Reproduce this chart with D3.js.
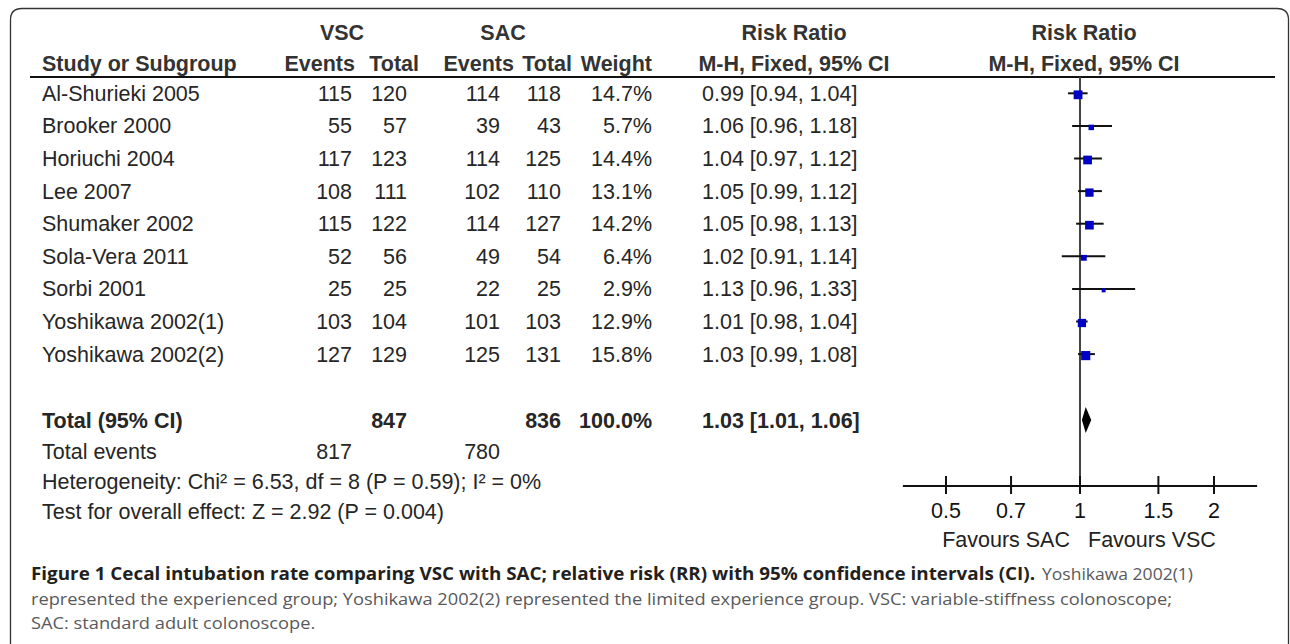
<!DOCTYPE html>
<html><head><meta charset="utf-8">
<script src="https://cdn.jsdelivr.net/npm/d3@7"></script>
<style>html,body{margin:0;padding:0;background:#fff;} svg{display:block;}</style>
</head><body><svg id="c" width="1290" height="644"></svg>
<script>
// ---------------- data ----------------
const studies = ["Al-Shurieki 2005","Brooker 2000","Horiuchi 2004","Lee 2007","Shumaker 2002","Sola-Vera 2011","Sorbi 2001","Yoshikawa 2002(1)","Yoshikawa 2002(2)"];
const vscEvents = [115,55,117,108,115,52,25,103,127];
const vscTotal  = [120,57,123,111,122,56,25,104,129];
const sacEvents = [114,39,114,102,114,49,22,101,125];
const sacTotal  = [118,43,125,110,127,54,25,103,131];
const weights   = [14.7,5.7,14.4,13.1,14.2,6.4,2.9,12.9,15.8];
const rr        = [0.99,1.06,1.04,1.05,1.05,1.02,1.13,1.01,1.03];
const ciLow     = [0.94,0.96,0.97,0.99,0.98,0.91,0.96,0.98,0.99];
const ciHigh    = [1.04,1.18,1.12,1.12,1.13,1.14,1.33,1.04,1.08];
const totalVsc = 847, totalSac = 836, totalWeight = 100.0;
const pooled = [1.03, 1.01, 1.06];
const eventsVsc = 817, eventsSac = 780;
const tickValues = [0.5, 0.7, 1, 1.5, 2];
const axisRange = [0.4, 2.5];
const heterogeneity = "Heterogeneity: Chi\u00b2 = 6.53, df = 8 (P = 0.59); I\u00b2 = 0%";
const overallTest = "Test for overall effect: Z = 2.92 (P = 0.004)";
const captionBold = "Figure 1 Cecal intubation rate comparing VSC with SAC; relative risk (RR) with 95% confidence intervals (CI).";
const captionLines = [
  "Yoshikawa 2002(1)",
  "represented the experienced group; Yoshikawa 2002(2) represented the limited experience group. VSC: variable-stiffness colonoscope;",
  "SAC: standard adult colonoscope."
];

// ---------------- layout ----------------
const FONT = "'Liberation Sans', Arial, sans-serif";
const FS = 21.5;
const svg = d3.select("#c");
const txt = "#262626", hdr = "#333";
const f2 = d3.format(".2f");
const fmtCI = (m,l,h) => `${f2(m)} [${f2(l)}, ${f2(h)}]`;

// frame
svg.append("path")
  .attr("d","M10.5,660 L10.5,20 Q10.5,8.5 22,8.5 L1277,8.5 Q1288.5,8.5 1288.5,20 L1288.5,660")
  .attr("fill","none").attr("stroke","#333").attr("stroke-width",1.3);

const row = d3.scaleLinear().domain([0,1]).range([93.3, 125.9]);
const x = d3.scaleLog().domain([0.5, 2]).range([946, 1214]);
const sq = d3.scaleSqrt().domain([0, 16]).range([0, 9.2]);

const col = {name:42, ve:352, vt:407, se:500, st:561, w:652, ci:702, ciC:794,
             hve:355, hvt:419, hse:514, hst:572, vscC:342, sacC:503, fc:1084};
const yH1 = 40, yH2 = 71, yLine = 77;
const yTot = 420, yTE = 451, yHet = 481, yTest = 511;
const axisY = 486;

function t(x0,y0,s,anchor,bold,size,fill){
  return svg.append("text").attr("x",x0).attr("y",y0).text(s)
    .attr("text-anchor",anchor||"start")
    .attr("font-family",FONT).attr("font-size",size||FS)
    .attr("font-weight",bold?"bold":"normal").attr("fill",fill||txt);
}

// headers
t(col.vscC, yH1, "VSC", "middle", true, FS, hdr);
t(col.sacC, yH1, "SAC", "middle", true, FS, hdr);
t(col.ciC, yH1, "Risk Ratio", "middle", true, FS, hdr);
t(col.fc, yH1, "Risk Ratio", "middle", true, FS, hdr);
t(col.name, yH2, "Study or Subgroup", "start", true, FS, hdr);
t(col.hve, yH2, "Events", "end", true, FS, hdr);
t(col.hvt, yH2, "Total", "end", true, FS, hdr);
t(col.hse, yH2, "Events", "end", true, FS, hdr);
t(col.hst, yH2, "Total", "end", true, FS, hdr);
t(col.w, yH2, "Weight", "end", true, FS, hdr);
t(col.ciC, yH2, "M-H, Fixed, 95% CI", "middle", true, FS, hdr);
t(col.fc, yH2, "M-H, Fixed, 95% CI", "middle", true, FS, hdr);
svg.append("line").attr("x1",30).attr("x2",1275).attr("y1",yLine).attr("y2",yLine)
  .attr("stroke","#111").attr("stroke-width",2);

// study rows
const g = svg.append("g");
const rows = g.selectAll("g.r").data(studies).join("g").attr("class","r")
  .attr("transform",(d,i)=>`translate(0,${row(i)})`);
const cell = (sel,xx,fn,anchor)=>sel.append("text").attr("x",xx).attr("y",7.5)
  .attr("text-anchor",anchor).attr("font-family",FONT).attr("font-size",FS)
  .attr("fill",txt).text(fn);
cell(rows, col.name, d=>d, "start");
cell(rows, col.ve, (d,i)=>vscEvents[i], "end");
cell(rows, col.vt, (d,i)=>vscTotal[i], "end");
cell(rows, col.se, (d,i)=>sacEvents[i], "end");
cell(rows, col.st, (d,i)=>sacTotal[i], "end");
cell(rows, col.w, (d,i)=>weights[i].toFixed(1)+"%", "end");
cell(rows, col.ci, (d,i)=>fmtCI(rr[i],ciLow[i],ciHigh[i]), "start");

// totals
t(col.name, yTot+7.5, "Total (95% CI)", "start", true);
t(col.vt, yTot+7.5, totalVsc, "end", true);
t(col.st, yTot+7.5, totalSac, "end", true);
t(col.w, yTot+7.5, totalWeight.toFixed(1)+"%", "end", true);
t(col.ci, yTot+7.5, fmtCI(pooled[0],pooled[1],pooled[2]), "start", true);
t(col.name, yTE+7.5, "Total events");
t(col.ve, yTE+7.5, eventsVsc, "end");
t(col.se, yTE+7.5, eventsSac, "end");
t(col.name, yHet+7.5, heterogeneity);
t(col.name, yTest+7.5, overallTest);

// forest: null line
svg.append("line").attr("x1",x(1)).attr("x2",x(1)).attr("y1",yLine).attr("y2",axisY+8)
  .attr("stroke","#444").attr("stroke-width",2);
// CI whiskers and squares
const fg = svg.append("g");
fg.selectAll("line.ci").data(studies).join("line").attr("class","ci")
  .attr("x1",(d,i)=>x(ciLow[i])).attr("x2",(d,i)=>x(ciHigh[i]))
  .attr("y1",(d,i)=>row(i)).attr("y2",(d,i)=>row(i))
  .attr("stroke","#111").attr("stroke-width",2);
fg.selectAll("rect.sq").data(studies).join("rect").attr("class","sq")
  .attr("x",(d,i)=>x(rr[i])-sq(weights[i])/2)
  .attr("y",(d,i)=>row(i)+1.5-sq(weights[i])/2)
  .attr("width",(d,i)=>sq(weights[i])).attr("height",(d,i)=>sq(weights[i]))
  .attr("fill","#0000c4");
// diamond
const dh = 13;
svg.append("path")
  .attr("d",`M${x(pooled[1])},${yTot} L${x(pooled[0])},${yTot-dh} L${x(pooled[2])},${yTot} L${x(pooled[0])},${yTot+dh} Z`)
  .attr("fill","#000");

// axis
svg.append("line").attr("x1",x(axisRange[0])).attr("x2",x(axisRange[1]))
  .attr("y1",axisY).attr("y2",axisY).attr("stroke","#111").attr("stroke-width",2);
const ax = svg.append("g");
ax.selectAll("line.tk").data(tickValues).join("line").attr("class","tk")
  .attr("x1",d=>x(d)).attr("x2",d=>x(d)).attr("y1",axisY-10).attr("y2",axisY+8)
  .attr("stroke","#111").attr("stroke-width",2);
ax.selectAll("text.tl").data(tickValues).join("text").attr("class","tl")
  .attr("x",d=>x(d)).attr("y",axisY+32).attr("text-anchor","middle")
  .attr("font-family",FONT).attr("font-size",FS).attr("fill","#111").text(d=>d);
t(x(1)-10, axisY+61, "Favours SAC", "end", false, FS, "#222");
t(x(1)+8, axisY+61, "Favours VSC", "start", false, FS, "#222");

// caption (condensed look via textLength)
const CF = "'Open Sans', 'Noto Sans', sans-serif";
const CS = 17;
const capY = [580, 604.5, 629];
const cb = svg.append("text").attr("x",31).attr("y",capY[0]).attr("font-family",CF)
  .attr("font-size",CS).attr("font-weight","bold").attr("fill","#231f20").text(captionBold);
const c1 = svg.append("text").attr("x",1042).attr("y",capY[0]).attr("font-family",CF)
  .attr("font-size",CS).attr("fill","#58595b").text(captionLines[0]);
const c2 = svg.append("text").attr("x",31).attr("y",capY[1]).attr("font-family",CF)
  .attr("font-size",CS).attr("fill","#58595b").text(captionLines[1]);
const c3 = svg.append("text").attr("x",31).attr("y",capY[2]).attr("font-family",CF)
  .attr("font-size",CS).attr("fill","#58595b").text(captionLines[2]);
const k = 1141 / c2.node().getComputedTextLength();
cb.attr("textLength", 1004).attr("lengthAdjust","spacingAndGlyphs");
c1.attr("textLength", 151).attr("lengthAdjust","spacingAndGlyphs");
c2.attr("textLength", 1141).attr("lengthAdjust","spacingAndGlyphs");
c3.attr("textLength", c3.node().getComputedTextLength()*k).attr("lengthAdjust","spacingAndGlyphs");
</script></body></html>
